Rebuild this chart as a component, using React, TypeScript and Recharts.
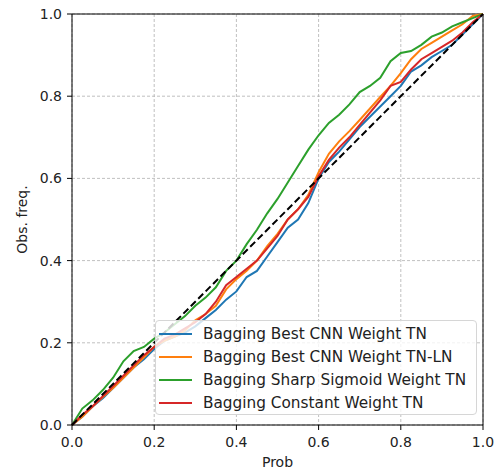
import { LineChart, Line, XAxis, YAxis, CartesianGrid, Legend, ReferenceLine } from "recharts";

// predicted probability grid (x) and observed frequency per model (y)
const prob = [
  0, 0.025, 0.05, 0.075, 0.1, 0.125, 0.15, 0.175, 0.2, 0.225, 0.25, 0.275, 0.3, 0.325,
  0.35, 0.375, 0.4, 0.425, 0.45, 0.475, 0.5, 0.525, 0.55, 0.575, 0.6, 0.625, 0.65, 0.675,
  0.7, 0.725, 0.75, 0.775, 0.8, 0.825, 0.85, 0.875, 0.9, 0.925, 0.95, 0.975, 1,
];
const bestTN = [
  0, 0.02, 0.045, 0.065, 0.09, 0.115, 0.14, 0.16, 0.185, 0.205, 0.215, 0.225, 0.24, 0.26,
  0.28, 0.305, 0.325, 0.36, 0.375, 0.41, 0.445, 0.48, 0.5, 0.54, 0.6, 0.64, 0.665, 0.695,
  0.725, 0.75, 0.775, 0.8, 0.825, 0.86, 0.875, 0.895, 0.91, 0.925, 0.95, 0.975, 1,
];
const bestTNLN = [
  0, 0.02, 0.045, 0.068, 0.09, 0.115, 0.14, 0.165, 0.19, 0.205, 0.215, 0.23, 0.255, 0.27,
  0.29, 0.33, 0.355, 0.375, 0.4, 0.435, 0.465, 0.5, 0.525, 0.56, 0.615, 0.66, 0.69, 0.715,
  0.742, 0.77, 0.798, 0.825, 0.856, 0.89, 0.915, 0.93, 0.945, 0.96, 0.975, 0.995, 1,
];
const sharpSigmoid = [
  0, 0.04, 0.06, 0.085, 0.115, 0.155, 0.18, 0.19, 0.21, 0.225, 0.245, 0.265, 0.29, 0.31,
  0.335, 0.375, 0.4, 0.44, 0.475, 0.515, 0.55, 0.59, 0.63, 0.67, 0.705, 0.735, 0.755, 0.78,
  0.81, 0.825, 0.845, 0.885, 0.905, 0.91, 0.925, 0.945, 0.955, 0.97, 0.98, 0.99, 1,
];
const constantTN = [
  0, 0.025, 0.045, 0.07, 0.095, 0.12, 0.145, 0.17, 0.19, 0.21, 0.22, 0.235, 0.25, 0.27,
  0.3, 0.34, 0.36, 0.38, 0.4, 0.43, 0.46, 0.5, 0.525, 0.555, 0.605, 0.645, 0.675, 0.7,
  0.73, 0.76, 0.79, 0.825, 0.835, 0.865, 0.89, 0.905, 0.92, 0.935, 0.955, 0.98, 1,
];
const perfect = [
  { p: 0, ideal: 0 },
  { p: 1, ideal: 1 },
];
const ticks = [0, 0.2, 0.4, 0.6, 0.8, 1];

const rows = prob.map((p, i) => ({
  p,
  a: bestTN[i],
  b: bestTNLN[i],
  c: sharpSigmoid[i],
  d: constantTN[i],
}));

const font = "'DejaVu Sans', sans-serif";
const tick = { fill: "#222", fontSize: 14, fontFamily: font };

function LegendBox({ payload }: any) {
  const items = (payload || []).filter((e: any) => e.type !== "none");
  return (
    <div style={{
      background: "rgba(255,255,255,0.8)", border: "1px solid #d6d6d6", borderRadius: 4,
      boxSizing: "border-box", width: 322, height: 95, paddingTop: 1, paddingLeft: 3,
      fontFamily: font, fontSize: 15.3, color: "#222", whiteSpace: "nowrap",
    }}>
      {items.map((e: any) => (
        <div key={e.value} style={{ height: 23, display: "flex", alignItems: "center" }}>
          <svg width={33} height={4} style={{ marginRight: 11, flex: "none" }}>
            <line x1={0} y1={2} x2={33} y2={2} stroke={e.color} strokeWidth={2.2} />
          </svg>
          <span>{e.value}</span>
        </div>
      ))}
    </div>
  );
}

export default function App() {
  return (
    <div style={{ position: "absolute", left: 0, top: 0, background: "#fff" }}>
      <LineChart width={503} height={473} data={rows} margin={{ top: 14, right: 20, bottom: 0, left: 0 }}>
        <CartesianGrid stroke="#b0b0b0" strokeDasharray="3 2" strokeWidth={0.8} />
        <XAxis
          dataKey="p" type="number" domain={[0, 1]} ticks={ticks} height={48}
          tick={tick} tickSize={5} tickMargin={7} stroke="#000" tickFormatter={(v: number) => v.toFixed(1)}
          label={{ value: "Prob", position: "insideBottom", offset: 6, style: { fill: "#222", fontSize: 14, fontFamily: font } }}
        />
        <YAxis
          type="number" domain={[0, 1]} ticks={ticks} width={72}
          tick={tick} tickSize={5} tickMargin={5} stroke="#000" tickFormatter={(v: number) => v.toFixed(1)}
          label={{ value: "Obs. freq.", angle: -90, position: "insideLeft", offset: 22, style: { textAnchor: "middle", fill: "#222", fontSize: 14, fontFamily: font } }}
        />
        <ReferenceLine y={1} stroke="#000" />
        <ReferenceLine x={1} stroke="#000" />
        <Line dataKey="a" name="Bagging Best CNN Weight TN" stroke="#1f77b4" strokeWidth={2} dot={false} isAnimationActive={false} />
        <Line dataKey="b" name="Bagging Best CNN Weight TN-LN" stroke="#ff7f0e" strokeWidth={2} dot={false} isAnimationActive={false} />
        <Line dataKey="c" name="Bagging Sharp Sigmoid Weight TN" stroke="#2ca02c" strokeWidth={2} dot={false} isAnimationActive={false} />
        <Line dataKey="d" name="Bagging Constant Weight TN" stroke="#d62728" strokeWidth={2} dot={false} isAnimationActive={false} />
        <Line data={perfect} dataKey="ideal" legendType="none" stroke="#000" strokeWidth={2} strokeDasharray="7 3.5" dot={false} isAnimationActive={false} />
        <Legend
          layout="vertical" align="center" verticalAlign="middle" itemSorter="dataKey"
          wrapperStyle={{ left: 155, top: 320, width: 322 }}
          content={<LegendBox />}
        />
      </LineChart>
    </div>
  );
}
